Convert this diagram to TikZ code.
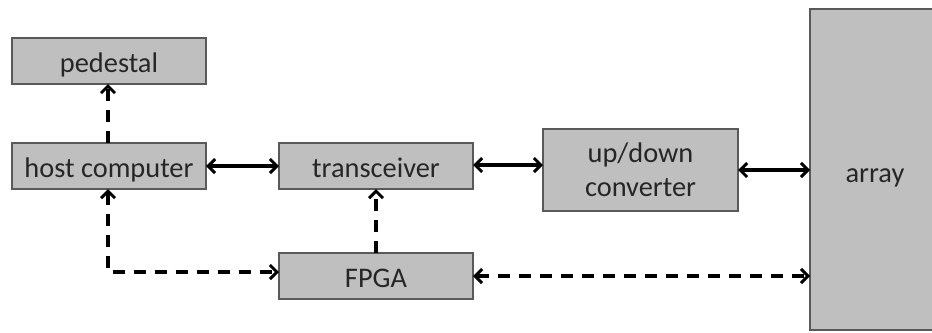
\documentclass[tikz,border=0pt]{standalone}
\usepackage{fontspec}
\setmainfont{Carlito}
\usetikzlibrary{arrows.meta}
\definecolor{boxfill}{HTML}{BFBFBF}
\definecolor{boxline}{HTML}{595959}
\definecolor{txt}{HTML}{262626}
\begin{document}
\begin{tikzpicture}[x=1bp,y=-1bp,
  blk/.style={draw=boxline,line width=1.6bp,fill=boxfill,text=txt,
    font=\fontsize{28.5}{34}\selectfont,align=center,inner sep=0pt,outer sep=0pt},
  one/.style={text height=22bp,text depth=0pt},
  tip/.tip={Straight Barb[length=7bp,width=14bp,line width=3bp]},
  conn/.style={line width=3.2bp,black,tip-tip},
  oneway/.style={line width=3.2bp,black,-tip},
  dsh/.style={dash pattern=on 12bp off 9bp}]
\useasboundingbox (0,0) rectangle (932,332);
\begin{scope}
\clip (0,0) rectangle (932,332);
\node[blk,one,minimum width=194bp,minimum height=46bp] (ped) at (109,61) {pedestal};
\node[blk,one,minimum width=194bp,minimum height=46bp] (host) at (109,166) {host computer};
\node[blk,one,minimum width=194bp,minimum height=46bp] (trx) at (376,166) {transceiver};
\node[blk,one,minimum width=194bp,minimum height=46bp] (fpga) at (376,276) {FPGA};
\node[blk,minimum width=195bp,minimum height=82bp] (udc) at (640.5,170) {up/down\\converter};
\node[blk,text height=26bp,text depth=0pt,minimum width=130bp,minimum height=321bp] (arr) at (875,169.5) {array};
\end{scope}
\coordinate (corner) at (108,272);
\draw[conn] (host.east) -- (trx.west);
\draw[conn] ([yshift=1bp]trx.east) -- ([yshift=1bp]trx.east -| udc.west);
\draw[conn] (udc.east) -- (udc.east -| arr.west);
\draw[oneway,dsh] ([xshift=-1bp]host.north) -- ([xshift=-1bp]ped.south);
\draw[oneway,dsh] (fpga.north) -- (trx.south);
\draw[conn,dsh] ([xshift=-1bp]host.south) -- (corner) -- (corner -| fpga.west);
\draw[conn,dsh] (fpga.east) -- (fpga.east -| arr.west);
\end{tikzpicture}
\end{document}
